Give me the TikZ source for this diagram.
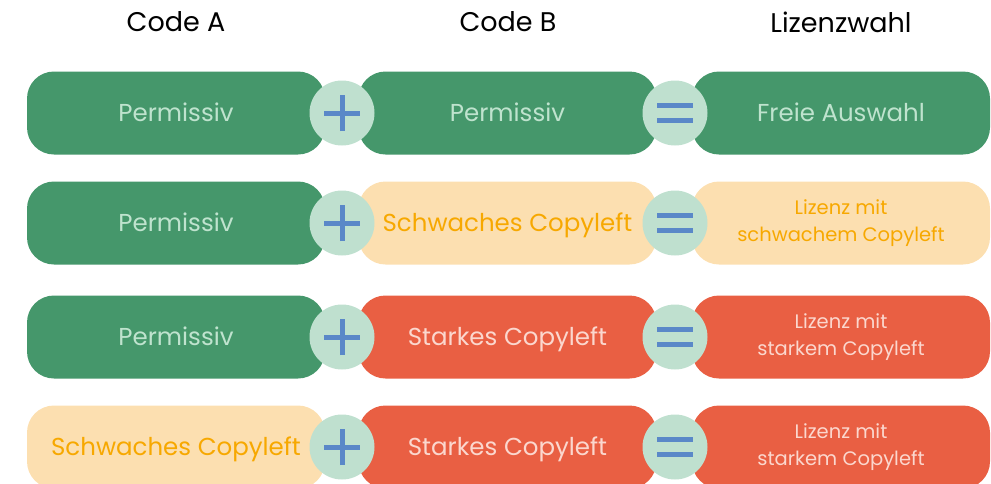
\documentclass[tikz,border=0pt]{standalone}
\usepackage{fontspec}
\setmainfont{Poppins}
\definecolor{gfill}{HTML}{45976B}
\definecolor{gtext}{HTML}{BFE3CE}
\definecolor{ofill}{HTML}{FCDFB0}
\definecolor{otext}{HTML}{F7A800}
\definecolor{rfill}{HTML}{E95F43}
\definecolor{rtext}{HTML}{FBD7CE}
\definecolor{cfill}{HTML}{BFE0CF}
\definecolor{sym}{HTML}{5A88C8}
\begin{document}
\begin{tikzpicture}[x=1pt,y=-1pt,
  box/.style={rounded corners=27pt, minimum width=298pt, minimum height=83pt, inner sep=0pt, font=\fontsize{24.5}{29}\selectfont},
  one/.style={text height=17pt, text depth=0pt},
  small/.style={align=center, font=\fontsize{19.5}{27}\selectfont},
  gbox/.style={box, fill=gfill, text=gtext},
  obox/.style={box, fill=ofill, text=otext},
  rbox/.style={box, fill=rfill, text=rtext},
  head/.style={font=\fontsize{27}{30}\selectfont, text=black},
  opcircle/.style={circle, fill=cfill, minimum size=65pt, inner sep=0pt},
  bar/.style={draw=sym, line width=5pt}
]
\useasboundingbox (0,0) rectangle (991,483);
\clip (0,0) rectangle (991,483);

\node[head] (hA) at (176,22) {Code A};
\node[head] (hB) at (508,22) {Code B};
\node[head] (hC) at (841,22) {Lizenzwahl};

% row 1
\node[gbox, one] (a1) at (176,113) {Permissiv};
\node[gbox, one] (b1) at (507.5,113) {Permissiv};
\node[gbox, one] (c1) at (841,113) {Freie Auswahl};
% row 2
\node[gbox, one] (a2) at (176,223) {Permissiv};
\node[obox, one] (b2) at (507.5,223) {Schwaches Copyleft};
\node[obox, small] (c2) at (841,223) {Lizenz mit\\schwachem Copyleft};
% row 3
\node[gbox, one] (a3) at (176,337) {Permissiv};
\node[rbox, one] (b3) at (507.5,337) {Starkes Copyleft};
\node[rbox, small] (c3) at (841,337) {Lizenz mit\\starkem Copyleft};
% row 4
\node[obox, one] (a4) at (176,447) {Schwaches Copyleft};
\node[rbox, one] (b4) at (507.5,447) {Starkes Copyleft};
\node[rbox, small] (c4) at (841,447) {Lizenz mit\\starkem Copyleft};

\foreach \r/\y in {1/113,2/223,3/337,4/447}{
  \node[opcircle] (p\r) at (342,\y) {};
  \draw[bar] ([xshift=-18pt]p\r.center) -- ([xshift=18pt]p\r.center);
  \draw[bar] ([yshift=-18pt]p\r.center) -- ([yshift=18pt]p\r.center);
  \node[opcircle] (e\r) at (675,\y) {};
  \draw[bar] ([xshift=-18pt,yshift=-7.5pt]e\r.center) -- ([xshift=18pt,yshift=-7.5pt]e\r.center);
  \draw[bar] ([xshift=-18pt,yshift=7.5pt]e\r.center) -- ([xshift=18pt,yshift=7.5pt]e\r.center);
}
\end{tikzpicture}
\end{document}
